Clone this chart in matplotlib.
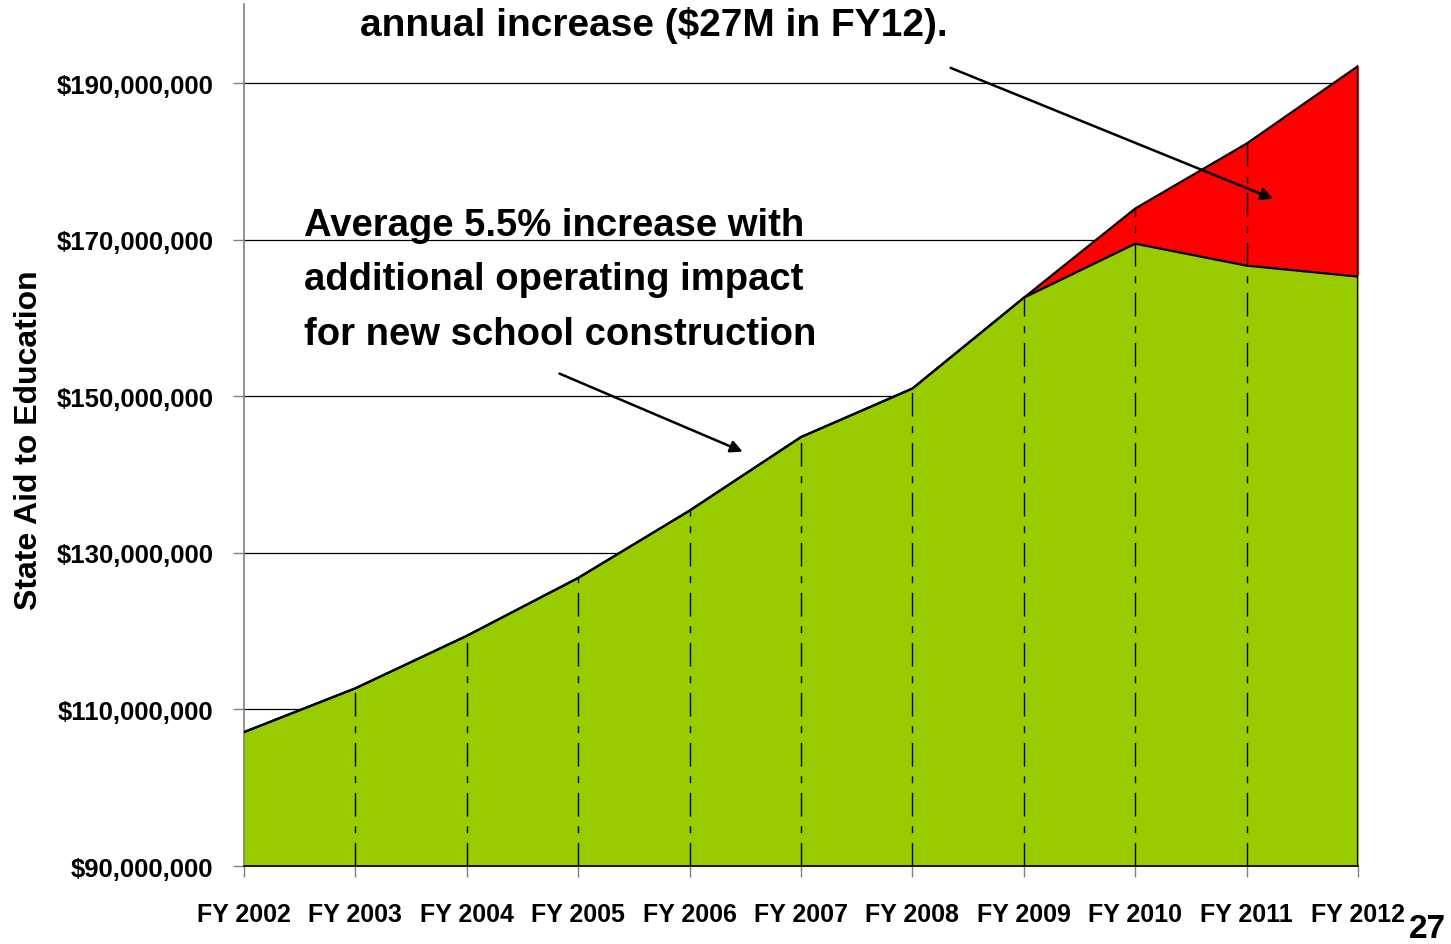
import matplotlib
matplotlib.use("Agg")
import matplotlib.pyplot as plt
import numpy as np

plt.rcParams['font.family'] = ['Liberation Sans', 'DejaVu Sans']
plt.rcParams['font.weight'] = 'bold'

years = ["FY 2002", "FY 2003", "FY 2004", "FY 2005", "FY 2006", "FY 2007",
         "FY 2008", "FY 2009", "FY 2010", "FY 2011", "FY 2012"]
# average 5.5% increase path
base_aid = [107.1e6, 112.7e6, 119.4e6, 126.8e6, 135.4e6, 144.8e6,
            151.0e6, 162.6e6, 169.5e6, 166.7e6, 165.3e6]
# with operating impact of new schools
full_aid = [107.1e6, 112.7e6, 119.4e6, 126.8e6, 135.4e6, 144.8e6,
            151.0e6, 162.6e6, 174.0e6, 182.3e6, 192.2e6]
y_ticks = [90e6, 110e6, 130e6, 150e6, 170e6, 190e6]

x = np.arange(len(years))
base_aid = np.array(base_aid)
full_aid = np.array(full_aid)

fig = plt.figure(figsize=(14.51, 9.45), dpi=100)
ax = fig.add_axes([0.168, 0.0825, 0.768, 0.912])

ax.fill_between(x, full_aid, 90e6, color="#ff0000", zorder=2)
ax.fill_between(x, base_aid, 90e6, color="#99cc00", zorder=2)
ax.plot(x, full_aid, color="black", lw=1.6, zorder=4)
ax.plot(x, base_aid, color="black", lw=1.6, zorder=4)
ax.plot([x[-1], x[-1]], [90e6, full_aid[-1]], color="black", lw=1.6, zorder=4)

# drop lines
for i in x[1:-1]:
    ax.plot([i, i], [90e6, full_aid[i]], color="black", lw=1.0,
            dashes=(17, 7, 5, 7), zorder=3)

ax.set_xlim(0, 10)
ax.set_ylim(90e6, 200.1e6)
ax.set_xticks(x)
ax.set_xticklabels(years, fontsize=18, fontweight="bold")
ax.set_yticks(y_ticks)
ax.set_yticklabels(["${:,.0f}".format(v) for v in y_ticks], fontsize=18.5, fontweight="bold")
ax.tick_params(axis="y", length=8, width=1, color="#808080", pad=14)
ax.tick_params(axis="x", length=8, width=1, color="#808080", pad=18)
ax.yaxis.grid(True, color="black", lw=0.9, zorder=1)
ax.set_axisbelow(True)

for s in ["top", "right"]:
    ax.spines[s].set_visible(False)
ax.spines["left"].set_color("#808080")
ax.spines["left"].set_linewidth(1.2)
ax.spines["bottom"].set_color("black")
ax.spines["bottom"].set_linewidth(1.2)

ax.set_ylabel("State Aid to Education", fontsize=23, fontweight="bold")
ax.yaxis.set_label_coords(-0.179, 0.495)

ax.text(1.043, 196.2e6, "annual increase ($27M in FY12).", fontsize=28,
        fontweight="bold", va="baseline", ha="left")
ax.text(0.54, 155.7e6, "Average 5.5% increase with\nadditional operating impact\nfor new school construction",
        fontsize=27.5, fontweight="bold", va="bottom", ha="left", linespacing=1.66)

ax.annotate("", xy=(4.5, 142.8e6), xytext=(2.81, 153.05e6),
            arrowprops=dict(arrowstyle="-|>", color="black", lw=1.8, mutation_scale=18))
ax.annotate("", xy=(9.26, 175.1e6), xytext=(6.32, 192.1e6),
            arrowprops=dict(arrowstyle="-|>", color="black", lw=1.8, mutation_scale=18))

fig.text(0.9965, 0.0, "27", fontsize=24, fontweight="bold", ha="right", va="bottom")

fig.savefig("out.png", dpi=100)
